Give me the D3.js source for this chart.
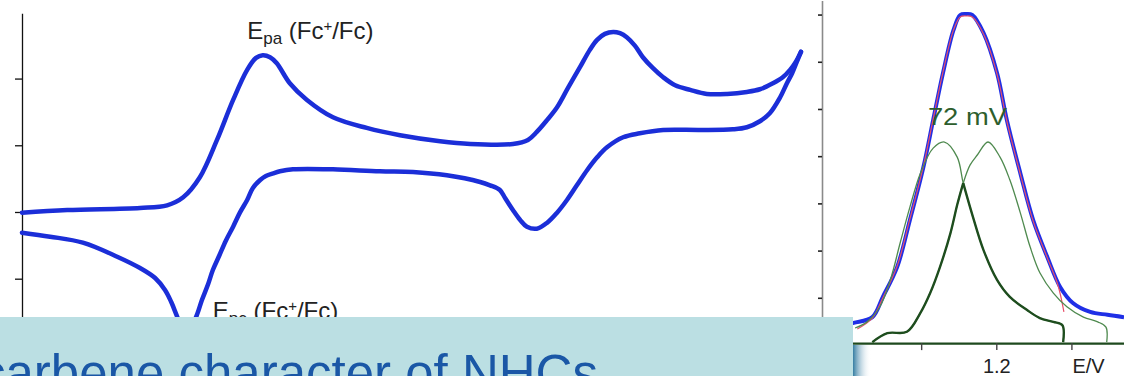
<!DOCTYPE html>
<html lang="en">
<head>
<meta charset="utf-8">
<title>CV and DPV of an NHC complex</title>
<style>
  body { margin: 0; background: #fff; }
  svg { display: block; font-family: "Liberation Sans", Arial, sans-serif; }
  .cv { fill: none; stroke: #1b2ed8; stroke-width: 4.5; stroke-linejoin: round; stroke-linecap: round; }
  .cv-axis path, .cv-axis line { stroke: #111; stroke-width: 1.3; }
  .dpv-yaxis path { stroke: #8a8a8a; stroke-width: 1.6; }
  .dpv-yaxis line { stroke: #222; stroke-width: 1.6; }
  .dpv-xaxis path { stroke: #1e4a1e; stroke-width: 2.2; }
  .dpv-xaxis line { stroke: #444; stroke-width: 1.4; }
  .dpv-xaxis text { font-size: 20px; fill: #222; }
  .sum { fill: none; stroke: #1f2fe6; stroke-width: 4; stroke-linejoin: round; }
  .fit { fill: none; stroke: #e8506a; stroke-width: 1.2; }
  .comp { fill: none; stroke: #4f8a4f; stroke-width: 1.3; }
  .comp-bold { fill: none; stroke: #1e4d1e; stroke-width: 2.4; }
  .label { font-size: 24px; fill: #222; }
</style>
</head>
<body>
<svg id="chart" width="1124" height="376">
  <defs>
    <linearGradient id="shadow" x1="0" x2="1" y1="0" y2="0">
      <stop offset="0" stop-color="#1f6f98" stop-opacity="0.9"></stop>
      <stop offset="1" stop-color="#ffffff" stop-opacity="0"></stop>
    </linearGradient>
  </defs>
</svg>
<script src="https://cdn.jsdelivr.net/npm/d3@7"></script>
<script>

// cyclic voltammogram, E in V, current in arbitrary units
var cvForwardE = [0.000, 0.087, 0.227, 0.279, 0.310, 0.342, 0.375, 0.406, 0.433, 0.450, 0.463, 0.477, 0.490, 0.515, 0.548, 0.598, 0.663, 0.727, 0.804, 0.862, 0.944, 0.973, 0.990, 1.010, 1.029, 1.050, 1.073, 1.092, 1.106, 1.121, 1.137, 1.150, 1.163, 1.179, 1.194, 1.213, 1.233, 1.256, 1.285, 1.317, 1.356, 1.394, 1.419, 1.444, 1.463, 1.477, 1.488, 1.498];
var cvForwardI = [-0.01, 0.03, 0.06, 0.10, 0.22, 0.52, 1.08, 1.68, 2.13, 2.31, 2.35, 2.32, 2.23, 1.93, 1.68, 1.42, 1.26, 1.15, 1.06, 1.02, 1.02, 1.08, 1.20, 1.38, 1.57, 1.86, 2.17, 2.43, 2.58, 2.67, 2.70, 2.68, 2.62, 2.49, 2.32, 2.16, 2.02, 1.90, 1.83, 1.77, 1.77, 1.80, 1.84, 1.93, 2.02, 2.13, 2.25, 2.40];
var cvReverseE = [1.498, 1.490, 1.481, 1.471, 1.458, 1.438, 1.419, 1.394, 1.367, 1.304, 1.233, 1.188, 1.156, 1.125, 1.106, 1.087, 1.067, 1.048, 1.029, 1.010, 0.990, 0.971, 0.958, 0.944, 0.929, 0.919, 0.900, 0.881, 0.817, 0.752, 0.688, 0.598, 0.521, 0.496, 0.483, 0.469, 0.458, 0.444, 0.433, 0.419, 0.406, 0.392, 0.379, 0.367, 0.358, 0.346, 0.337, 0.327, 0.317, 0.308, 0.298, 0.287, 0.275, 0.256, 0.227, 0.183, 0.117, 0.054, 0.000];
var cvReverseI = [2.40, 2.25, 2.08, 1.93, 1.72, 1.48, 1.36, 1.27, 1.24, 1.23, 1.23, 1.18, 1.12, 0.97, 0.82, 0.63, 0.40, 0.18, -0.01, -0.16, -0.25, -0.22, -0.12, 0.03, 0.21, 0.33, 0.40, 0.45, 0.55, 0.60, 0.61, 0.64, 0.64, 0.61, 0.58, 0.54, 0.48, 0.36, 0.18, -0.01, -0.22, -0.43, -0.66, -0.87, -1.08, -1.32, -1.53, -1.71, -1.81, -1.74, -1.56, -1.35, -1.17, -0.99, -0.84, -0.67, -0.46, -0.37, -0.31];
var cvTicks = [-1, 0, 1, 2];

// differential pulse voltammogram and its two-peak deconvolution
var dpvE = [0.992, 1.010, 1.035, 1.049, 1.068, 1.085, 1.103, 1.116, 1.129, 1.143, 1.152, 1.160, 1.168, 1.183, 1.201, 1.214, 1.232, 1.249, 1.268, 1.285, 1.302, 1.325, 1.348, 1.370];
var dpvI = [0.40, 0.47, 0.59, 1.02, 1.65, 2.65, 3.77, 4.77, 5.76, 6.67, 6.99, 7.01, 6.99, 6.61, 5.76, 4.77, 3.64, 2.65, 1.86, 1.23, 0.89, 0.70, 0.64, 0.59];
var fitE = [1.015, 1.035, 1.049, 1.068, 1.085, 1.103, 1.116, 1.129, 1.143, 1.152, 1.160, 1.168, 1.183, 1.201, 1.214, 1.232, 1.249, 1.268, 1.282, 1.290];
var fitI = [0.34, 0.57, 1.00, 1.67, 2.67, 3.79, 4.79, 5.78, 6.67, 6.95, 6.97, 6.95, 6.59, 5.74, 4.75, 3.62, 2.63, 1.84, 1.27, 0.70];
var peak1E = [1.012, 1.028, 1.045, 1.059, 1.072, 1.085, 1.099, 1.116, 1.131, 1.148, 1.156, 1.169, 1.183, 1.201, 1.218, 1.241, 1.258, 1.276, 1.288, 1.289];
var peak1I = [0.36, 0.49, 0.81, 1.38, 2.16, 2.92, 3.64, 4.17, 4.30, 3.98, 3.43, 2.71, 2.01, 1.38, 1.02, 0.74, 0.57, 0.49, 0.42, 0.06];
var peak2E = [1.035, 1.055, 1.081, 1.099, 1.112, 1.125, 1.139, 1.148, 1.156, 1.165, 1.175, 1.189, 1.205, 1.218, 1.232, 1.245, 1.258, 1.276, 1.294, 1.316, 1.335, 1.346, 1.347];
var peak2I = [0.06, 0.25, 0.28, 0.68, 1.10, 1.65, 2.37, 2.97, 3.43, 3.81, 4.03, 4.30, 3.98, 3.50, 2.80, 2.08, 1.53, 1.10, 0.81, 0.59, 0.49, 0.38, 0.06];
var crossE = 1.156;
var dpvYTicks = [1, 2, 3, 4, 5, 6, 7];
var dpvXTicks = [1.1, 1.2, 1.3];

var svg = d3.select("#chart");

function zip(xs, ys) {
  return xs.map(function (x, i) { return [x, ys[i]]; });
}

// ---- left panel: CV ----
var cvX = d3.scaleLinear().domain([0, 1.5]).range([22, 802]);
var cvY = d3.scaleLinear().domain([-2, 2.98]).range([345.4, 13.2]);

svg.append("g")
    .attr("class", "cv-axis")
    .attr("transform", "translate(" + cvX(0) + ",0)")
    .call(d3.axisLeft(cvY).tickValues(cvTicks).tickSize(7).tickSizeOuter(0).tickFormat(""));

var cvLine = d3.line()
    .x(function (d) { return cvX(d[0]); })
    .y(function (d) { return cvY(d[1]); })
    .curve(d3.curveCatmullRom);

svg.append("path").attr("class", "cv").attr("d", cvLine(zip(cvForwardE, cvForwardI)));
svg.append("path").attr("class", "cv").attr("d", cvLine(zip(cvReverseE, cvReverseI)));

function peakLabel(x, y, sub) {
  var t = svg.append("text").attr("class", "label").attr("x", x).attr("y", y);
  t.append("tspan").text("E");
  t.append("tspan").attr("font-size", 17).attr("dy", 5).text(sub);
  t.append("tspan").attr("dy", -5).text(" (Fc");
  t.append("tspan").attr("font-size", 15).attr("dy", -8).text("+");
  t.append("tspan").attr("dy", 8).text("/Fc)");
}
peakLabel(cvX(0.433), cvY(2.59), "pa");
peakLabel(cvX(0.367), cvY(-1.61), "pc");

// ---- right panel: DPV ----
var dpvX = d3.scaleLinear().domain([0.968, 1.370]).range([822, 1124]);
var dpvY = d3.scaleLinear().domain([0, 7.3]).range([345, 0.4]);

svg.append("g")
    .attr("class", "dpv-yaxis")
    .attr("transform", "translate(" + dpvX(0.968) + ",0)")
    .call(d3.axisLeft(dpvY).tickValues(dpvYTicks).tickSize(4).tickSizeOuter(0).tickFormat(""));

var xAxis = svg.append("g")
    .attr("class", "dpv-xaxis")
    .attr("transform", "translate(0," + dpvY(0.04) + ")")
    .call(d3.axisBottom(dpvX).tickValues(dpvXTicks).tickSize(7).tickSizeOuter(0).tickPadding(9)
      .tickFormat(function (d) { return d === 1.2 ? "1.2" : ""; }));
xAxis.selectAll("text").attr("font-family", null);

svg.append("text")
    .attr("x", dpvX(1.3) + 1)
    .attr("y", 373)
    .attr("font-size", 20)
    .attr("fill", "#222")
    .text("E/V");

var dpvLine = d3.line()
    .x(function (d) { return dpvX(d[0]); })
    .y(function (d) { return dpvY(d[1]); })
    .curve(d3.curveCatmullRom);

var p1 = zip(peak1E, peak1I);
var p2 = zip(peak2E, peak2I);

svg.append("path").attr("class", "sum").attr("d", dpvLine(zip(dpvE, dpvI)));
svg.append("path").attr("class", "fit").attr("d", dpvLine(zip(fitE, fitI)));
svg.append("path").attr("class", "comp").attr("d", dpvLine(p1));
svg.append("path").attr("class", "comp").attr("d", dpvLine(p2));
svg.append("path").attr("class", "comp-bold")
    .attr("d", dpvLine(p1.filter(function (d) { return d[0] >= crossE; })));
svg.append("path").attr("class", "comp-bold")
    .attr("d", dpvLine(p2.filter(function (d) { return d[0] <= crossE; })));

svg.append("text")
    .attr("x", dpvX(1.109))
    .attr("y", dpvY(4.65))
    .attr("font-size", 23)
    .attr("fill", "#2d5e2d")
    .attr("textLength", 79)
    .attr("lengthAdjust", "spacingAndGlyphs")
    .text("72 mV");

// ---- title box overlapping the bottom ----
svg.append("rect")
    .attr("x", 0).attr("y", 317)
    .attr("width", 853).attr("height", 59)
    .attr("fill", "#bbdfe3");
svg.append("rect")
    .attr("x", 853).attr("y", 345)
    .attr("width", 18).attr("height", 31)
    .attr("fill", "url(#shadow)");
svg.append("text")
    .attr("x", -20)
    .attr("y", 391)
    .attr("font-size", 51)
    .attr("fill", "#1a57a6")
    .text("carbene character of NHCs");

</script>
</body>
</html>
